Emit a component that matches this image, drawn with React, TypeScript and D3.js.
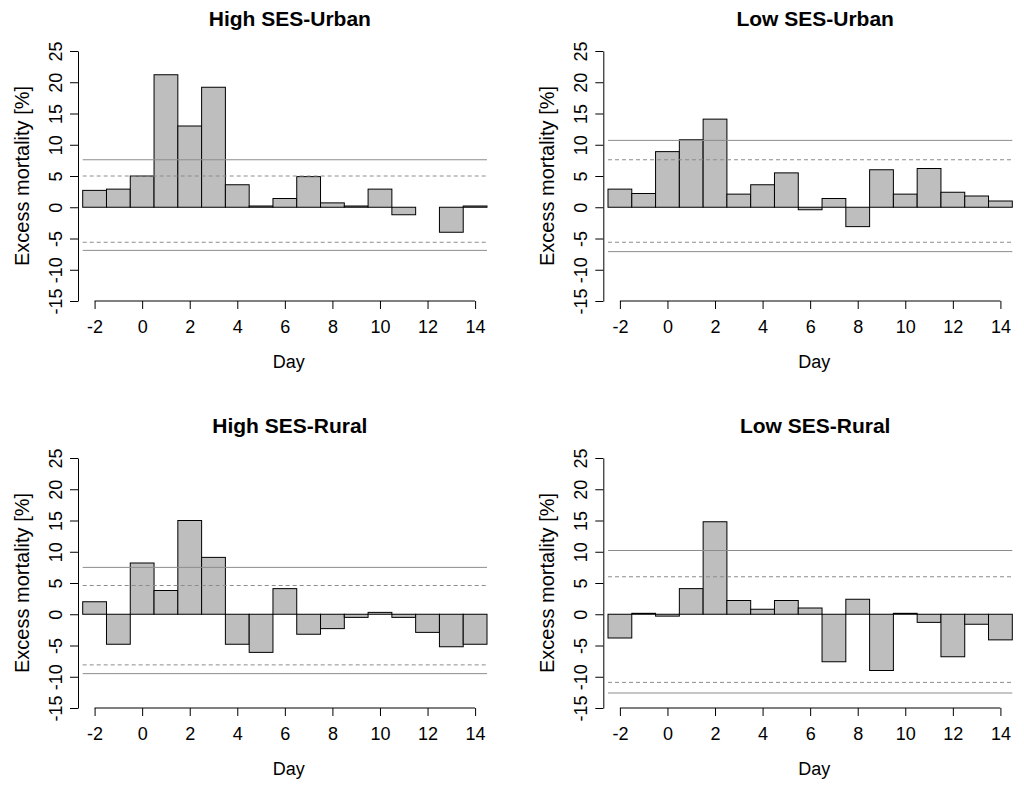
import React, { useEffect, useRef } from 'react';
import * as d3 from 'd3';

// days after event (-2 .. 14)
const days = [-2, -1, 0, 1, 2, 3, 4, 5, 6, 7, 8, 9, 10, 11, 12, 13, 14];
const xTicks = [-2, 0, 2, 4, 6, 8, 10, 12, 14];
const yTicks = [-15, -10, -5, 0, 5, 10, 15, 20, 25];

const titles = ['High SES-Urban', 'Low SES-Urban', 'High SES-Rural', 'Low SES-Rural'];

// excess mortality [%] per day
const highUrban = [2.7, 2.9, 5.0, 21.2, 13.0, 19.2, 3.6, 0.2, 1.4, 4.9, 0.7, 0.2, 2.9, -1.2, 0, -4.0, 0.2];
const lowUrban = [2.9, 2.2, 8.9, 10.8, 14.1, 2.1, 3.6, 5.5, -0.4, 1.4, -3.1, 6.0, 2.1, 6.2, 2.4, 1.8, 1.0];
const highRural = [2.0, -4.8, 8.2, 3.8, 15.0, 9.1, -4.8, -6.1, 4.1, -3.2, -2.3, -0.5, 0.3, -0.5, -2.9, -5.2, -4.8];
const lowRural = [-3.8, 0.15, -0.3, 4.1, 14.8, 2.2, 0.8, 2.2, 1.0, -7.6, 2.4, -9.0, 0.15, -1.3, -6.8, -1.6, -4.1];

// reference limits: [upper solid, upper dashed, lower dashed, lower solid]
const highUrbanLimits = [7.6, 5.0, -5.6, -6.9];
const lowUrbanLimits = [10.7, 7.6, -5.6, -7.1];
const highRuralLimits = [7.5, 4.6, -8.1, -9.5];
const lowRuralLimits = [10.2, 6.0, -10.9, -12.6];

const seriesList = [highUrban, lowUrban, highRural, lowRural];
const limitsList = [highUrbanLimits, lowUrbanLimits, highRuralLimits, lowRuralLimits];

const FONT = 'Arial, "Liberation Sans", sans-serif';

const App = () => {
  const svgRef = useRef<SVGSVGElement>(null);

  useEffect(() => {
    if (!svgRef.current) return;
    const svg = d3.select(svgRef.current);
    svg.selectAll('*').remove();

    const plotW = 404.3;
    const plotH = 250;

    seriesList.forEach((vals, i) => {
      const col = i % 2;
      const row = Math.floor(i / 2);
      const left = 82.7 + col * 525.3;
      const top = 51 + row * 407;

      const g = svg.append('g').attr('transform', `translate(${left},${top})`);

      const x = d3.scaleLinear().domain([-2.5, 14.5]).range([0, plotW]);
      const y = d3.scaleLinear().domain([-15, 25]).range([plotH, 0]);

      // bars
      g.selectAll('rect.bar')
        .data(days)
        .enter().append('rect')
        .attr('class', 'bar')
        .attr('x', d => x(d - 0.5))
        .attr('width', x(0.5) - x(-0.5))
        .attr('y', (d, j) => y(Math.max(vals[j], 0)))
        .attr('height', (d, j) => Math.abs(y(vals[j]) - y(0)))
        .attr('fill', '#bebebe')
        .attr('stroke', '#000')
        .attr('stroke-width', 1);

      // limit lines
      g.selectAll('line.lim')
        .data(limitsList[i])
        .enter().append('line')
        .attr('class', 'lim')
        .attr('x1', 0)
        .attr('x2', plotW)
        .attr('y1', d => y(d))
        .attr('y2', d => y(d))
        .attr('stroke', '#8c8c8c')
        .attr('stroke-width', 1)
        .attr('stroke-dasharray', (d, j) => (j === 1 || j === 2 ? '4,3' : null));

      // y axis
      const yAxis = g.append('g')
        .attr('transform', 'translate(-4.7,0)')
        .call(d3.axisLeft(y).tickValues(yTicks).tickFormat(d => String(d)).tickSize(8).tickSizeOuter(0));
      yAxis.select('.domain').attr('stroke', '#000');
      yAxis.selectAll('.tick line').attr('stroke', '#000');
      yAxis.selectAll('.tick text')
        .attr('transform', 'rotate(-90)')
        .attr('x', 0)
        .attr('y', -16)
        .attr('dy', 0)
        .attr('text-anchor', 'middle')
        .attr('font-size', 18)
        .attr('font-family', FONT)
        .attr('fill', '#000');

      // x axis
      const xAxis = g.append('g')
        .attr('transform', `translate(0,${plotH})`)
        .call(d3.axisBottom(x).tickValues(xTicks).tickFormat(d => String(d)).tickSize(8).tickSizeOuter(0));
      xAxis.select('.domain').remove();
      xAxis.append('line')
        .attr('x1', x(xTicks[0]))
        .attr('x2', x(xTicks[xTicks.length - 1]))
        .attr('stroke', '#000');
      xAxis.selectAll('.tick line').attr('stroke', '#000');
      xAxis.selectAll('.tick text')
        .attr('y', 32)
        .attr('dy', 0)
        .attr('font-size', 18)
        .attr('font-family', FONT)
        .attr('fill', '#000');

      // labels
      g.append('text')
        .attr('x', plotW / 2 + 5)
        .attr('y', -25)
        .attr('text-anchor', 'middle')
        .attr('font-size', 21)
        .attr('font-weight', 'bold')
        .attr('font-family', FONT)
        .text(titles[i]);

      g.append('text')
        .attr('x', plotW / 2 + 4)
        .attr('y', plotH + 67)
        .attr('text-anchor', 'middle')
        .attr('font-size', 18)
        .attr('font-family', FONT)
        .text('Day');

      g.append('text')
        .attr('transform', `translate(-53.7,${plotH / 2}) rotate(-90)`)
        .attr('text-anchor', 'middle')
        .attr('font-size', 20)
        .attr('font-family', FONT)
        .text('Excess mortality [%]');
    });
  }, []);

  return (
    <div style={{ position: 'absolute', left: 0, top: 0 }}>
      <svg ref={svgRef} width={1024} height={786} style={{ display: 'block', background: '#fff' }}></svg>
    </div>
  );
};

export default App;
